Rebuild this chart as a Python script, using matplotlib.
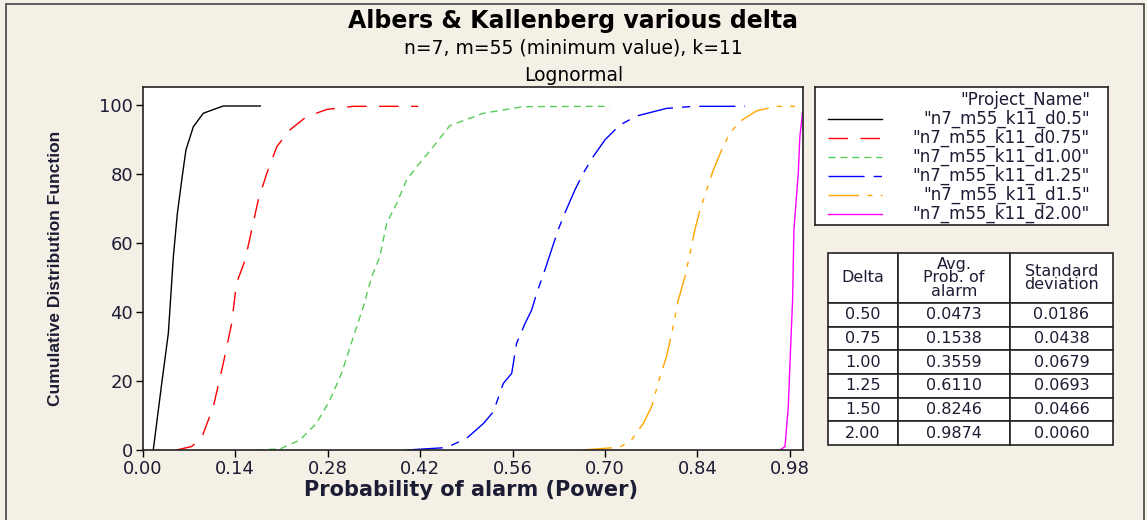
import matplotlib.pyplot as plt
from matplotlib.patches import Rectangle

# curve points: probability of alarm vs cumulative percent
d050_x = [0.016, 0.0288, 0.0388, 0.0413, 0.0464, 0.0525, 0.0605, 0.0655, 0.0767, 0.0918, 0.122, 0.178]
d050_y = [0, 19.3, 33.8, 41.0, 56.0, 68.6, 80.2, 87.0, 93.7, 97.6, 99.7, 99.7]

d075_x = [0.051, 0.074, 0.089, 0.107, 0.122, 0.1347, 0.142, 0.155, 0.165, 0.175, 0.188, 0.203,
          0.223, 0.248, 0.279, 0.319, 0.417]
d075_y = [0, 1.0, 3.4, 12.6, 25.1, 36.7, 48.3, 55.0, 63.8, 72.5, 80.2, 87.9,
          92.8, 96.6, 98.7, 99.6, 99.6]

d100_x = [0.1726, 0.208, 0.238, 0.263, 0.2836, 0.301, 0.319, 0.334, 0.3467, 0.359, 0.3694,
          0.3846, 0.3997, 0.415, 0.44, 0.465, 0.516, 0.576, 0.7075]
d100_y = [0, 0.3, 2.9, 7.7, 14.5, 22.2, 32.8, 41.5, 50.2, 56.0, 65.7,
          71.5, 78.3, 82.1, 87.9, 94.0, 97.6, 99.5, 99.6]

d125_x = [0.3997, 0.46, 0.4905, 0.516, 0.531, 0.546, 0.5587, 0.566, 0.579, 0.589, 0.5965,
          0.609, 0.619, 0.629, 0.639, 0.6545, 0.667, 0.682, 0.70, 0.7226, 0.748, 0.793,
          0.834, 0.912]
d125_y = [0, 0.7, 3.4, 7.7, 11.1, 19.3, 22.2, 30.9, 36.7, 40.6, 45.4,
          52.2, 58.0, 63.8, 68.6, 75.4, 80.2, 85.0, 89.9, 94.2, 96.8, 99.0,
          99.6, 99.6]

d150_x = [0.6646, 0.7226, 0.740, 0.758, 0.7706, 0.7832, 0.793, 0.801, 0.811, 0.821, 0.8287,
          0.836, 0.8438, 0.854, 0.864, 0.8766, 0.889, 0.904, 0.9296, 0.96, 0.9926]
d150_y = [0, 0.8, 2.9, 7.7, 12.6, 21.2, 27.0, 33.8, 43.5, 50.2, 57.0,
          63.8, 69.6, 75.4, 81.2, 87.0, 91.8, 95.2, 98.3, 99.6, 99.6]

d200_x = [0.965, 0.9725, 0.9775, 0.980, 0.984, 0.986, 0.9926, 0.995, 0.999]
d200_y = [0, 1.0, 12.6, 25.0, 43.5, 63.8, 80.2, 90.8, 97.6]

names = ['"n7_m55_k11_d0.5"', '"n7_m55_k11_d0.75"', '"n7_m55_k11_d1.00"',
         '"n7_m55_k11_d1.25"', '"n7_m55_k11_d1.5"', '"n7_m55_k11_d2.00"']

# summary table
deltas = ["0.50", "0.75", "1.00", "1.25", "1.50", "2.00"]
avg_prob = ["0.0473", "0.1538", "0.3559", "0.6110", "0.8246", "0.9874"]
std_dev = ["0.0186", "0.0438", "0.0679", "0.0693", "0.0466", "0.0060"]

xticks = [0.00, 0.14, 0.28, 0.42, 0.56, 0.70, 0.84, 0.98]
yticks = [0, 20, 40, 60, 80, 100]

bg = "#f5f0e6"
txt = "#1c1c34"

colors = ["black", "red", "#55cc55", "blue", "orange", "magenta"]
styles = ["-", (0, (14, 9)), (0, (5, 3.6)), (0, (26, 6.5, 6, 6.5)),
          (0, (22, 6, 3.6, 6, 3.6, 6)), "-"]


def main():
    W, H = 1147, 520
    fig = plt.figure(figsize=(W / 100, H / 100), dpi=100)
    fig.patch.set_facecolor(bg)

    # outer frame
    fig.add_artist(Rectangle((6 / W, -0.01), (1144 - 6) / W, (H - 4) / H + 0.01,
                             transform=fig.transFigure, fill=False,
                             edgecolor="#444444", lw=1.2))

    ax = fig.add_axes([142.7 / W, 1 - 450 / H, (802.7 - 142.7) / W, (450 - 87) / H])
    ax.set_facecolor("white")

    series = [(d050_x, d050_y), (d075_x, d075_y), (d100_x, d100_y),
              (d125_x, d125_y), (d150_x, d150_y), (d200_x, d200_y)]
    for (x, y), c, ls in zip(series, colors, styles):
        ax.plot(x, y, color=c, linestyle=ls, lw=1.0)

    ax.set_xlim(0, 0.9993)
    ax.set_ylim(0, 105.2)
    ax.set_xticks(xticks)
    ax.set_xticklabels(["%.2f" % t for t in xticks])
    ax.set_yticks(yticks)
    ax.tick_params(direction="out", length=5, width=1, colors="black",
                   labelcolor=txt, labelsize=13, pad=2)
    for s in ax.spines.values():
        s.set_linewidth(1.2)
        s.set_color("#222222")

    ax.set_xlabel("Probability of alarm (Power)", fontsize=15, fontweight="bold",
                  color=txt)
    ax.xaxis.set_label_coords(0.497, -0.082)
    ax.set_ylabel("Cumulative Distribution Function", fontsize=12.5, fontweight="bold",
                  color=txt, family=["Liberation Sans"])
    ax.yaxis.set_label_coords(-0.121, 0.5)

    fig.text(0.5, 1 - 28 / H, "Albers & Kallenberg various delta", ha="center",
             va="baseline", fontsize=17, fontweight="bold", color="black")
    fig.text(0.5, 1 - 54 / H, "n=7, m=55 (minimum value), k=11", ha="center",
             va="baseline", fontsize=13.5, color="black")
    fig.text(0.5, 1 - 81 / H, "Lognormal", ha="center", va="baseline",
             fontsize=13.5, color="black")

    # legend box
    lx0, lx1, ly0, ly1 = 815, 1108, 87, 225
    lax = fig.add_axes([lx0 / W, 1 - ly1 / H, (lx1 - lx0) / W, (ly1 - ly0) / H])
    lax.set_facecolor("white")
    lax.set_xlim(lx0, lx1)
    lax.set_ylim(ly1, ly0)
    lax.set_xticks([])
    lax.set_yticks([])
    for s in lax.spines.values():
        s.set_linewidth(1.2)
        s.set_color("#222222")
    lax.text(1090, 100, '"Project_Name"', ha="right", va="center", fontsize=12, color=txt)
    for i, (nm, c, ls) in enumerate(zip(names, colors, styles)):
        yy = 119 + i * 19
        lax.plot([828, 882], [yy, yy], color=c, linestyle=ls, lw=1.0)
        lax.text(1090, yy, nm, ha="right", va="center", fontsize=12, color=txt)

    # summary table
    tx0, tx1, ty0, ty1 = 828, 1113, 253, 445
    tax = fig.add_axes([tx0 / W, 1 - ty1 / H, (tx1 - tx0) / W, (ty1 - ty0) / H])
    tax.axis("off")
    cells = [["Delta", "Avg.\nProb. of\nalarm", "Standard\ndeviation"]]
    cells += [[d, a, s] for d, a, s in zip(deltas, avg_prob, std_dev)]
    tbl = tax.table(cellText=cells, cellLoc="center", bbox=[0, 0, 1, 1])
    tbl.auto_set_font_size(False)
    col_w = [70 / 285, 112 / 285, 103 / 285]
    head_h = 50 / 192
    row_h = (1 - head_h) / 6
    for (r, c), cell in tbl.get_celld().items():
        cell.set_width(col_w[c])
        cell.set_height(head_h if r == 0 else row_h)
        cell.set_linewidth(1.2)
        cell.set_edgecolor("#222222")
        cell.set_facecolor("white")
        cell.get_text().set_fontsize(11.5)
        cell.get_text().set_color(txt)
        cell.get_text().set_linespacing(0.9)

    fig.savefig("out.png", dpi=100, facecolor=bg)


if __name__ == "__main__":
    main()
